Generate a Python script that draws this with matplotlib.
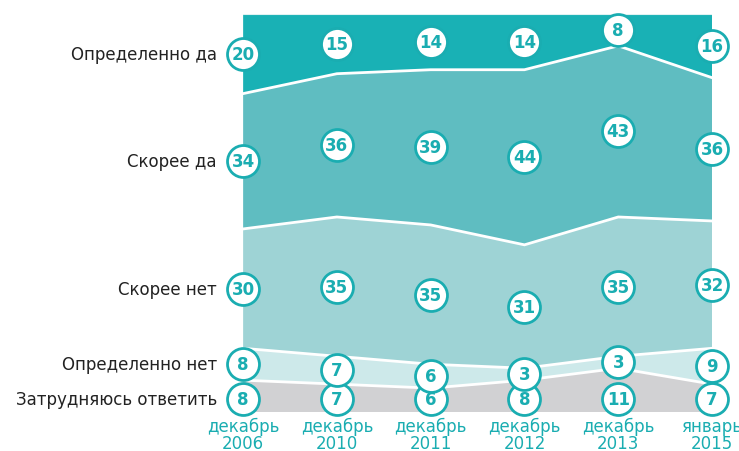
import numpy as np
import matplotlib.pyplot as plt
import matplotlib.transforms as mtransforms

# data (percent), columns = survey waves
periods = ["декабрь\n2006", "декабрь\n2010", "декабрь\n2011",
           "декабрь\n2012", "декабрь\n2013", "январь\n2015"]
categories = ["Затрудняюсь ответить", "Определенно нет", "Скорее нет",
              "Скорее да", "Определенно да"]
hard_to_say = [8, 7, 6, 8, 11, 7]
definitely_no = [8, 7, 6, 3, 3, 9]
rather_no = [30, 35, 35, 31, 35, 32]
rather_yes = [34, 36, 39, 44, 43, 36]
definitely_yes = [20, 15, 14, 14, 8, 16]

series = [hard_to_say, definitely_no, rather_no, rather_yes, definitely_yes]
colors = ["#d1d1d3", "#cde9ea", "#9ed3d5", "#5fbdc1", "#19b1b5"]
teal = "#1aadb1"

fig = plt.figure(figsize=(7.39, 4.52), dpi=100)
ax = fig.add_axes([0.329, 0.0863, 0.6345, 0.8805])

x = np.arange(len(periods))
vals = np.array(series, dtype=float)
cum = np.cumsum(vals, axis=0)

ax.stackplot(x, vals, colors=colors, linewidth=0)
# white separators between bands
for row in cum[:-1]:
    ax.plot(x, row, color="white", lw=2, solid_joinstyle="miter")
ax.plot(x, cum[-1], color="#dff2f2", lw=1.5)

ax.set_xlim(0, len(periods) - 1)
ax.set_ylim(0, 100)
ax.axis("off")

# label positions: centre of each band, bottom row kept on one line
ypos = cum - vals / 2
ypos[0] = 3.2

for i in range(len(series)):
    ax.plot(x, ypos[i], "o", ms=23, mfc="white", mec=teal, mew=2,
            clip_on=False, zorder=5)
    for xi, yi, v in zip(x, ypos[i], vals[i]):
        ax.text(xi, yi, f"{int(v)}", ha="center", va="center",
                color=teal, fontsize=12, fontweight="bold", zorder=6)

# category names on the left
trans = mtransforms.blended_transform_factory(ax.transAxes, ax.transData)
for i, name in enumerate(categories):
    ax.text(-0.056, ypos[i][0], name, transform=trans, ha="right",
            va="center", fontsize=12, color="#222222")

# period labels below
for xi, p in zip(x, periods):
    ax.text(xi, -1.3, p, ha="center", va="top", color=teal,
            fontsize=12, linespacing=0.9, clip_on=False)

fig.savefig("out.png", dpi=100)
